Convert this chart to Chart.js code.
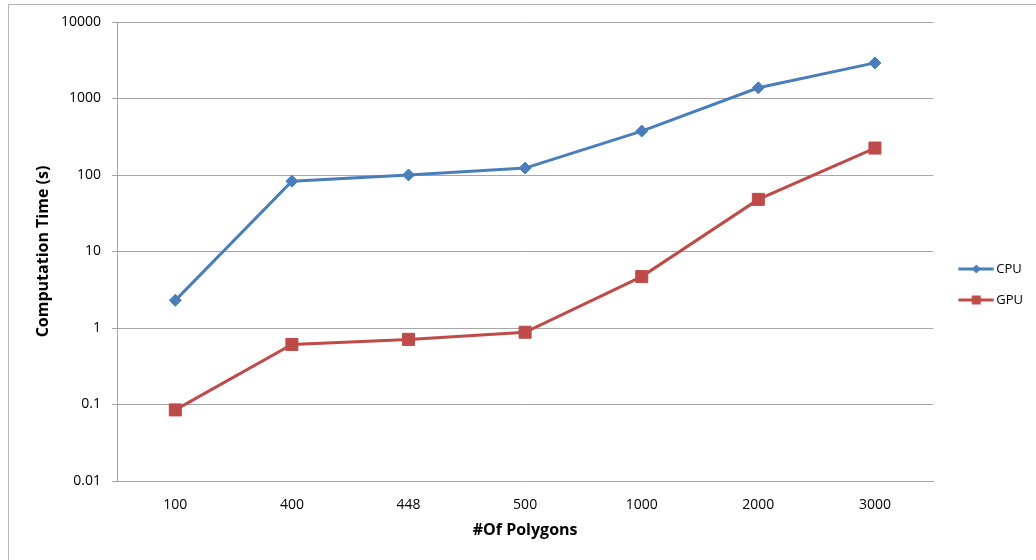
<!DOCTYPE html>
<html><head><meta charset="utf-8">
<script src="https://cdn.jsdelivr.net/npm/chart.js@4/dist/chart.umd.min.js"></script>
<style>
html,body{margin:0;padding:0;background:#fff;overflow:hidden;width:1036px;height:560px}
#frame{position:absolute;left:8px;top:4px;width:1100px;height:700px;border:1px solid #b4b4b4;box-sizing:border-box}
#wrap{position:absolute;left:0;top:0;width:1036px;height:560px}
</style></head><body>
<div id="frame"></div>
<div id="wrap"><canvas id="c" width="1036" height="560"></canvas></div>
<script>
const categories = ['100', '400', '448', '500', '1000', '2000', '3000'];
const cpuTimes = [2.3, 83, 100, 123, 375, 1380, 2920];
const gpuTimes = [0.085, 0.61, 0.71, 0.88, 4.7, 48, 225];
const yTicks = [0.01, 0.1, 1, 10, 100, 1000, 10000];
const seriesNames = ['CPU', 'GPU'];

const BLUE = '#4A7EBB', RED = '#BE4B48', GRID = '#A6A6A6';
const FONT = "'Open Sans', sans-serif";

function legendImage(color, style) {
  const cv = document.createElement('canvas');
  cv.width = 46; cv.height = 14;
  const g = cv.getContext('2d');
  g.strokeStyle = color; g.lineWidth = 3;
  g.beginPath(); g.moveTo(10.75, 7); g.lineTo(45.75, 7); g.stroke();
  g.fillStyle = color;
  const cx = 28.75, cy = 7;
  if (style === 'diamond') {
    g.beginPath(); g.moveTo(cx - 4.5, cy); g.lineTo(cx, cy - 4.5); g.lineTo(cx + 4.5, cy); g.lineTo(cx, cy + 4.5); g.closePath(); g.fill();
  } else {
    g.fillRect(cx - 4.5, cy - 4.5, 9, 9);
  }
  return cv;
}
const legendImgs = [legendImage(BLUE, 'diamond'), legendImage(RED, 'square')];

new Chart(document.getElementById('c'), {
  type: 'line',
  data: {
    labels: categories,
    datasets: [
      { label: seriesNames[0], data: cpuTimes, borderColor: BLUE, backgroundColor: BLUE, borderWidth: 3,
        pointStyle: 'rectRot', pointRadius: 6, pointHoverRadius: 6, pointBorderWidth: 1, tension: 0 },
      { label: seriesNames[1], data: gpuTimes, borderColor: RED, backgroundColor: RED, borderWidth: 3,
        pointStyle: 'rect', pointRadius: 8.5, pointHoverRadius: 8.5, pointBorderWidth: 1, tension: 0 }
    ]
  },
  options: {
    responsive: false,
    devicePixelRatio: 1,
    animation: false,
    layout: { padding: { left: 8, top: 22, right: 3, bottom: 13 } },
    plugins: {
      tooltip: { enabled: false },
      legend: {
        position: 'right',
        labels: {
          usePointStyle: true,
          pointStyleWidth: 38.5,
          padding: 18,
          color: '#000',
          font: { family: FONT, size: 13 },
          generateLabels: (chart) => chart.data.datasets.map((ds, i) => ({
            text: ds.label, fillStyle: ds.borderColor, strokeStyle: ds.borderColor,
            lineWidth: 0, hidden: false, datasetIndex: i, pointStyle: legendImgs[i], fontColor: '#000'
          }))
        }
      }
    },
    scales: {
      x: {
        type: 'category',
        offset: true,
        grid: { display: false, drawTicks: false },
        border: { display: true, color: GRID, width: 1 },
        ticks: { color: '#000', font: { family: FONT, size: 14 }, padding: 16, maxRotation: 0 },
        title: { display: true, text: '#Of Polygons', color: '#000', font: { family: FONT, size: 16, weight: 'bold' }, padding: { top: 0, bottom: 7 } },
        afterFit: (s) => { s.height = 66; }
      },
      y: {
        type: 'logarithmic',
        min: 0.01,
        max: 10000,
        grid: { color: GRID, lineWidth: 1, tickLength: 5, drawTicks: true },
        border: { display: true, color: GRID, width: 1 },
        ticks: { color: '#000', font: { family: FONT, size: 14 }, padding: 11,
          callback: (v) => String(v) },
        afterBuildTicks: (s) => { s.ticks = yTicks.map(v => ({ value: v })); },
        title: { display: true, text: 'Computation Time (s)', color: '#000', font: { family: FONT, size: 16, weight: 'bold' }, padding: { top: 26, bottom: 0 } },
        afterFit: (s) => { s.width = 109; }
      }
    }
  }
});
</script>
</body></html>
